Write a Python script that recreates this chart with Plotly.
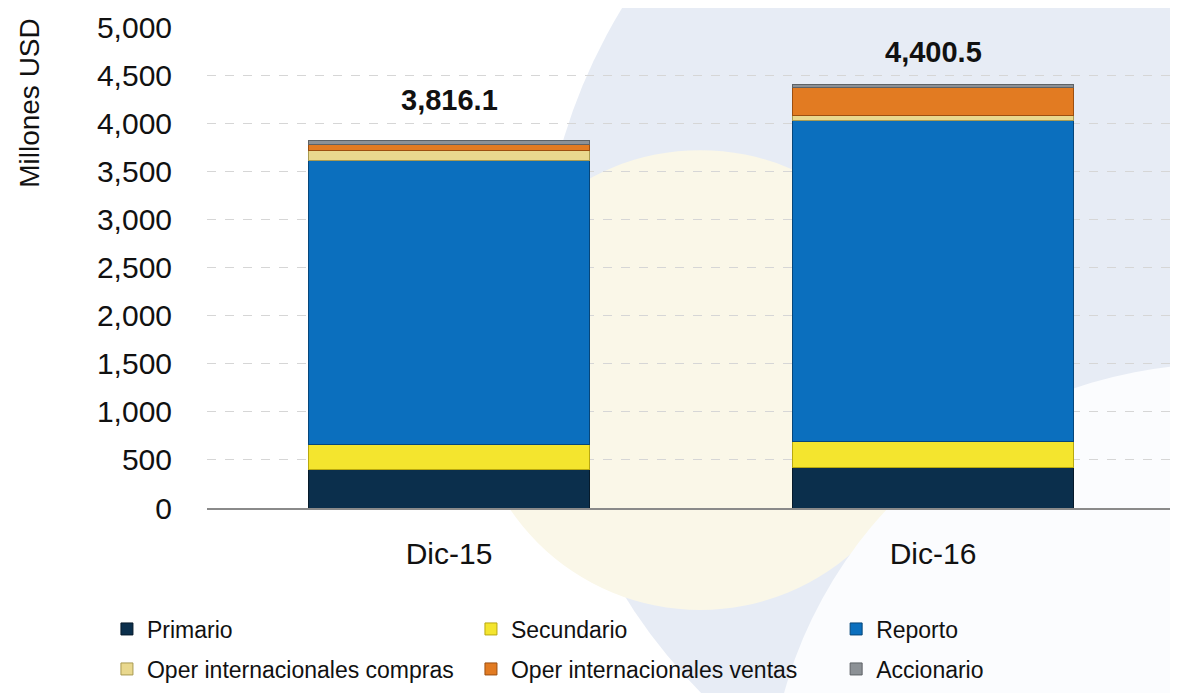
import plotly.graph_objects as go

categories = ["Dic-15", "Dic-16"]
primario = [400.0, 425.0]
secundario = [265.0, 265.0]
reporto = [2950.0, 3340.0]
oper_compras = [105.0, 50.0]
oper_ventas = [60.0, 290.0]
accionario = [36.1, 30.5]
totals = [3816.1, 4400.5]

series = [
    ("Primario", primario, "#0b2f4c", "#061a2a"),
    ("Secundario", secundario, "#f4e52e", "#b8a810"),
    ("Reporto", reporto, "#0b6fbe", "#06467a"),
    ("Oper internacionales compras", oper_compras, "#e9d88e", "#a89a50"),
    ("Oper internacionales ventas", oper_ventas, "#e27b22", "#9c4f10"),
    ("Accionario", accionario, "#8c9196", "#5e6266"),
]

FONT = "Liberation Sans, Arial, sans-serif"

legend_ids = ["legend", "legend2", "legend3", "legend4", "legend5", "legend6"]
legend_x = [0.084, 0.393, 0.703, 0.084, 0.393, 0.703]
legend_y = [1 - 621 / 693, 1 - 621 / 693, 1 - 621 / 693,
            1 - 661 / 693, 1 - 661 / 693, 1 - 661 / 693]

fig = go.Figure()
for (name, vals, col, lcol), leg in zip(series, legend_ids):
    fig.add_trace(go.Bar(
        x=categories, y=vals, name=name, legend=leg,
        marker=dict(color=col, line=dict(color=lcol, width=1)),
        width=0.58,
    ))

label_shift = [41, 33]
for cat, tot, sh in zip(categories, totals, label_shift):
    fig.add_annotation(
        x=cat, y=tot, text=f"<b>{tot:,.1f}</b>", showarrow=False,
        yanchor="middle", yshift=sh,
        font=dict(family=FONT, size=29, color="#111111"),
    )

# y-axis title
fig.add_annotation(
    xref="paper", yref="paper", x=-0.183, y=0.842,
    text="Millones USD", textangle=-90, showarrow=False,
    xanchor="center", yanchor="middle",
    font=dict(family=FONT, size=28, color="#111111"),
)

# subtle decorative background
fig.add_shape(type="circle", xref="paper", yref="paper", layer="below",
              x0=0.344, x1=1.501, y0=-0.732, y1=1.597,
              fillcolor="#e7ecf5", line=dict(width=0))
fig.add_shape(type="circle", xref="paper", yref="paper", layer="below",
              x0=0.272, x1=0.747, y0=-0.212, y1=0.744,
              fillcolor="#faf7e8", line=dict(width=0))
fig.add_shape(type="circle", xref="paper", yref="paper", layer="below",
              x0=0.58, x1=1.52, y0=-1.55, y1=0.3,
              fillcolor="#fbfcfe", line=dict(width=0))

layout_legends = {}
for leg, lx, ly in zip(legend_ids, legend_x, legend_y):
    layout_legends[leg] = dict(
        orientation="h",
        xref="container", yref="container",
        x=lx, y=ly, xanchor="left", yanchor="middle",
        font=dict(family=FONT, size=23, color="#111111"),
        bgcolor="rgba(0,0,0,0)",
    )

fig.update_layout(
    width=1178, height=693,
    barmode="stack",
    paper_bgcolor="white",
    plot_bgcolor="rgba(0,0,0,0)",
    margin=dict(l=199, r=11, t=19, b=193, autoexpand=False),
    font=dict(family=FONT, size=28, color="#111111"),
    showlegend=True,
    yaxis=dict(
        range=[0, 5000], dtick=500, tickformat=",d",
        showgrid=True, gridcolor="#d6d6d6", griddash="dash", gridwidth=1,
        zeroline=False, showline=False,
        ticks="", ticklen=0, ticklabelstandoff=34,
        tickfont=dict(family=FONT, size=30),
        automargin=False,
    ),
    xaxis=dict(
        showline=True, linecolor="#8a8a8a", linewidth=2,
        ticks="", tickfont=dict(family=FONT, size=30),
        ticklabelstandoff=18,
        showgrid=False, automargin=False,
    ),
    **layout_legends,
)

fig.write_html("out.html")
